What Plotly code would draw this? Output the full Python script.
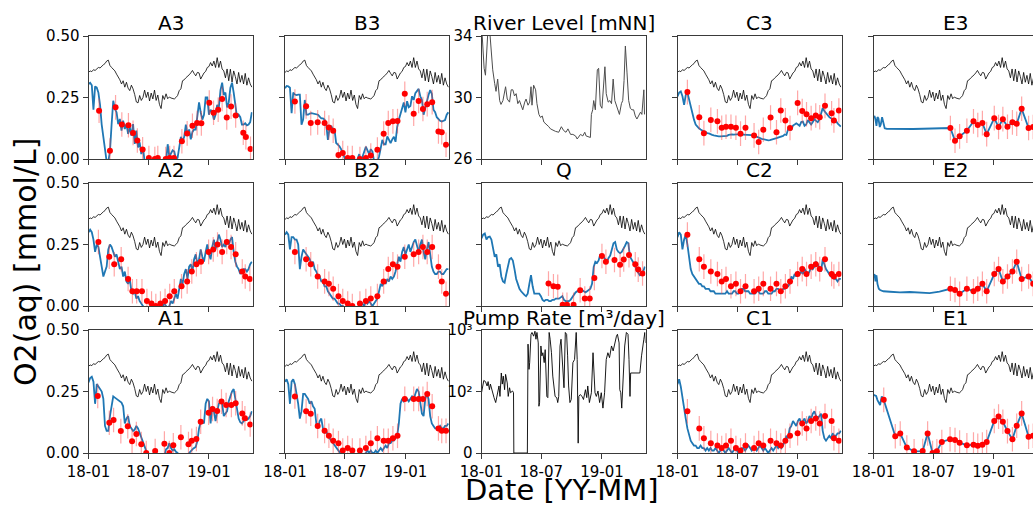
import numpy as np
import pandas as pd
import plotly.graph_objects as go

# ---------------- data ----------------
START = "2018-01-01"
SPAN_DAYS = 497          # visible time span of each panel
GRID_STEP = 5            # model / background series sampled every 5 days
OBS_ERR = 0.05           # observation error bar half-length [mmol/L]

# background (scaled temperature) line, identical in every O2 panel
T_LINE = [0.352, 0.358, 0.355, 0.363, 0.360, 0.368, 0.372, 0.370, 0.378, 0.383,
          0.388, 0.398, 0.402, 0.380, 0.372, 0.366, 0.358, 0.345, 0.335, 0.322,
          0.305, 0.318, 0.292, 0.312, 0.288, 0.278, 0.300, 0.285, 0.262, 0.232,
          0.228, 0.258, 0.238, 0.250, 0.280, 0.250, 0.272, 0.236, 0.268, 0.244,
          0.280, 0.238, 0.260, 0.222, 0.205, 0.258, 0.242, 0.265, 0.245, 0.252,
          0.248, 0.246, 0.244, 0.250, 0.258, 0.278, 0.285, 0.318, 0.322, 0.330,
          0.335, 0.342, 0.350, 0.360, 0.348, 0.338, 0.352, 0.350, 0.325, 0.340,
          0.350, 0.356, 0.372, 0.376, 0.392, 0.378, 0.398, 0.372, 0.412, 0.372,
          0.398, 0.366, 0.358, 0.330, 0.366, 0.318, 0.365, 0.313, 0.358, 0.335,
          0.305, 0.352, 0.312, 0.340, 0.305, 0.348, 0.300, 0.330, 0.305, 0.292]

A3_MODEL = [0.305, 0.31, 0.30, 0.20, 0.295, 0.29, 0.27, 0.22, 0.14, 0.08,
            0.02, -0.01, -0.01, 0.03, 0.14, 0.237, 0.203, 0.19, 0.142, 0.163,
            0.115, 0.156, 0.122, 0.142, 0.102, 0.129, 0.095, 0.142, 0.061, 0.115,
            0.047, 0.068, 0.02, 0.047, -0.01, -0.02, -0.02, -0.02, -0.02, -0.02,
            -0.02, -0.02, -0.02, -0.02, -0.02, -0.02, -0.02, -0.01, 0.06, 0.01,
            0.025, 0.035, 0.03, 0.0, 0.005, 0.05, 0.09, 0.07, 0.09, 0.14,
            0.10, 0.12, 0.08, 0.11, 0.12, 0.12, 0.19, 0.23, 0.19, 0.16,
            0.18, 0.25, 0.25, 0.18, 0.20, 0.19, 0.16, 0.18, 0.22, 0.21,
            0.28, 0.31, 0.26, 0.27, 0.21, 0.23, 0.29, 0.31, 0.27, 0.21,
            0.17, 0.18, 0.17, 0.14, 0.14, 0.145, 0.137, 0.14, 0.15, 0.19]
A3_OBS_DAYS = [32, 65, 82, 101, 121, 135, 148, 164, 183, 201, 210, 234, 246, 259, 283,
               299, 315, 329, 342, 366, 379, 393, 405, 419, 432, 446, 469, 477, 491]
A3_OBS = [0.196, 0.034, 0.21, 0.14, 0.137, 0.106, 0.075, 0.039, 0.004, 0.0, 0.004, 0.0, 0.004, 0.004, 0.072,
          0.104, 0.135, 0.146, 0.145, 0.229, 0.188, 0.20, 0.244, 0.169, 0.213, 0.177, 0.107, 0.089, 0.041]

A2_MODEL = [0.30, 0.31, 0.30, 0.27, 0.22, 0.25, 0.24, 0.20, 0.17, 0.12,
            0.14, 0.16, 0.23, 0.25, 0.24, 0.22, 0.20, 0.21, 0.18, 0.15,
            0.16, 0.12, 0.14, 0.10, 0.09, 0.11, 0.06, 0.05, 0.06, 0.03,
            0.04, 0.02, 0.01, 0.00, -0.01, -0.01, -0.01, -0.01, -0.01, -0.01,
            -0.01, -0.01, -0.01, -0.01, -0.01, 0.00, 0.01, 0.00, -0.01, 0.00,
            0.02, 0.01, 0.03, 0.05, 0.03, 0.08, 0.11, 0.09, 0.13, 0.15,
            0.11, 0.16, 0.17, 0.14, 0.19, 0.21, 0.17, 0.19, 0.23, 0.20,
            0.18, 0.22, 0.25, 0.21, 0.19, 0.24, 0.27, 0.23, 0.26, 0.29,
            0.27, 0.24, 0.25, 0.24, 0.27, 0.25, 0.27, 0.28, 0.22, 0.18,
            0.16, 0.15, 0.13, 0.14, 0.15, 0.15, 0.14, 0.15, 0.17, 0.18]
A2_OBS_DAYS = [30, 63, 78, 99, 120, 133, 146, 162, 177, 191, 204, 218, 232, 246, 260,
               282, 299, 313, 327, 341, 364, 378, 391, 405, 419, 432, 446, 466, 475, 489]
A2_OBS = [0.26, 0.20, 0.17, 0.19, 0.11, 0.06, 0.06, 0.06, 0.02, 0.01, 0.00, 0.01, 0.02, 0.04, 0.06,
          0.08, 0.10, 0.14, 0.17, 0.18, 0.22, 0.23, 0.25, 0.22, 0.26, 0.24, 0.21, 0.14, 0.12, 0.11]

A1_MODEL = [0.287, 0.305, 0.31, 0.29, 0.20, 0.28, 0.27, 0.26, 0.25, 0.22,
            0.11, 0.09, 0.09, 0.15, 0.20, 0.23, 0.225, 0.22, 0.215, 0.21,
            0.205, 0.19, 0.12, 0.14, 0.15, 0.11, 0.10, 0.09, 0.095, 0.11,
            0.10, 0.08, 0.06, 0.045, 0.02, 0.0, -0.01, -0.01, -0.01, -0.01,
            -0.01, -0.01, -0.01, -0.01, -0.01, -0.01, -0.01, 0.015, 0.02, 0.04,
            0.02, 0.01, 0.015, 0.005, 0.0, -0.01, -0.01, -0.01, -0.01, -0.01,
            -0.01, 0.0, 0.01, 0.015, 0.02, 0.025, 0.05, 0.10, 0.125, 0.13,
            0.12, 0.20, 0.22, 0.21, 0.12, 0.19, 0.17, 0.13, 0.17, 0.20,
            0.21, 0.20, 0.15, 0.16, 0.17, 0.21, 0.23, 0.25, 0.26, 0.22,
            0.17, 0.14, 0.125, 0.12, 0.13, 0.135, 0.135, 0.14, 0.15, 0.17]
A1_OBS_DAYS = [28, 63, 76, 98, 119, 132, 145, 160, 175, 202, 230, 245, 257, 280,
               303, 313, 327, 340, 364, 376, 390, 403, 417, 433, 446, 466, 474, 490]
A1_OBS = [0.232, 0.123, 0.134, 0.089, 0.109, 0.048, 0.077, 0.036, 0.0, 0.008, 0.038, 0.0, 0.031, 0.064,
          0.036, 0.05, 0.057, 0.127, 0.164, 0.179, 0.171, 0.209, 0.195, 0.195, 0.202, 0.161, 0.141, 0.116]

B_OBS_DAYS = [30, 64, 78, 99, 120, 133, 146, 162, 175, 190, 204, 227, 245, 260,
              280, 299, 313, 327, 341, 363, 390, 405, 418, 431, 446, 465, 475, 488]

B3_MODEL = [0.288, 0.297, 0.295, 0.29, 0.186, 0.27, 0.262, 0.26, 0.262, 0.262,
            0.139, 0.16, 0.24, 0.18, 0.18, 0.185, 0.186, 0.185, 0.184, 0.18,
            0.18, 0.172, 0.165, 0.165, 0.16, 0.14, 0.078, 0.125, 0.135, 0.12,
            0.12, 0.065, 0.06, 0.052, 0.04, 0.025, 0.005, -0.01, -0.01, -0.01,
            -0.01, -0.01, -0.01, -0.01, 0.0, 0.02, -0.01, 0.01, 0.03, 0.05,
            0.035, 0.02, 0.04, 0.03, -0.01, -0.01, -0.01, 0.01, 0.04, 0.078,
            0.06, 0.06, 0.092, 0.075, 0.065, 0.08, 0.09, 0.07, 0.13, 0.16,
            0.185, 0.20, 0.23, 0.19, 0.235, 0.21, 0.215, 0.255, 0.24, 0.268,
            0.275, 0.285, 0.255, 0.24, 0.18, 0.21, 0.24, 0.26, 0.28, 0.265,
            0.20, 0.19, 0.17, 0.16, 0.155, 0.152, 0.155, 0.158, 0.18, 0.19]
B3_OBS = [0.234, 0.214, 0.146, 0.149, 0.146, 0.128, 0.115, 0.016, 0.024, 0.004, 0.004, 0.0, 0.004, 0.014,
          0.038, 0.103, 0.146, 0.153, 0.154, 0.265, 0.184, 0.236, 0.203, 0.223, 0.231, 0.112, 0.109, 0.058]

B2_MODEL = [0.29, 0.30, 0.29, 0.23, 0.28, 0.28, 0.27, 0.27, 0.25, 0.15,
            0.20, 0.23, 0.22, 0.21, 0.20, 0.19, 0.17, 0.18, 0.15, 0.14,
            0.12, 0.12, 0.10, 0.10, 0.08, 0.08, 0.06, 0.05, 0.04, 0.03,
            0.03, 0.02, 0.01, 0.01, 0.0, 0.0, -0.005, -0.005, -0.005, -0.005,
            -0.005, -0.005, -0.005, -0.005, -0.005, -0.005, 0.0, 0.01, 0.0, 0.02,
            0.01, 0.02, 0.01, 0.0, 0.01, 0.02, 0.03, 0.06, 0.09, 0.08,
            0.10, 0.09, 0.11, 0.10, 0.12, 0.11, 0.12, 0.14, 0.17, 0.20,
            0.18, 0.22, 0.24, 0.21, 0.23, 0.25, 0.22, 0.24, 0.26, 0.27,
            0.24, 0.22, 0.25, 0.27, 0.22, 0.19, 0.23, 0.26, 0.21, 0.16,
            0.14, 0.13, 0.13, 0.14, 0.14, 0.13, 0.13, 0.14, 0.15, 0.15]
B2_OBS = [0.22, 0.19, 0.17, 0.12, 0.10, 0.09, 0.07, 0.04, 0.02, 0.01, 0.00, 0.01, 0.02, 0.03,
          0.04, 0.10, 0.15, 0.17, 0.16, 0.20, 0.21, 0.22, 0.24, 0.22, 0.24, 0.16, 0.10, 0.05]

B1_MODEL = [0.29, 0.30, 0.28, 0.20, 0.29, 0.30, 0.28, 0.24, 0.20, 0.14,
            0.17, 0.24, 0.24, 0.23, 0.22, 0.20, 0.21, 0.19, 0.18, 0.12,
            0.10, 0.13, 0.14, 0.10, 0.08, 0.09, 0.07, 0.06, 0.05, 0.04,
            0.03, 0.02, 0.01, 0.0, -0.005, -0.005, -0.005, -0.005, -0.005, -0.005,
            -0.005, -0.005, -0.005, -0.005, -0.005, -0.005, -0.005, -0.005, -0.005, 0.0,
            0.01, 0.0, 0.01, 0.0, 0.0, 0.01, 0.0, 0.01, 0.02, 0.01,
            0.02, 0.03, 0.02, 0.04, 0.04, 0.05, 0.05, 0.06, 0.07, 0.12,
            0.20, 0.22, 0.21, 0.22, 0.22, 0.21, 0.22, 0.23, 0.22, 0.24,
            0.26, 0.25, 0.20, 0.16, 0.15, 0.22, 0.24, 0.22, 0.15, 0.12,
            0.11, 0.10, 0.10, 0.10, 0.11, 0.10, 0.10, 0.11, 0.11, 0.12]
B1_OBS = [0.23, 0.17, 0.16, 0.11, 0.09, 0.07, 0.05, 0.04, 0.01, 0.02, 0.01, 0.01, 0.02, 0.04,
          0.06, 0.05, 0.05, 0.06, 0.07, 0.22, 0.22, 0.22, 0.22, 0.24, 0.19, 0.10, 0.09, 0.09]

Q_MODEL = [0.275, 0.29, 0.295, 0.27, 0.28, 0.282, 0.27, 0.228, 0.20, 0.21,
           0.16, 0.17, 0.12, 0.10, 0.095, 0.13, 0.16, 0.19, 0.195, 0.185,
           0.15, 0.11, 0.09, 0.07, 0.06, 0.05, 0.045, 0.04, 0.05, 0.09,
           0.125, 0.08, 0.05, 0.05, 0.05, 0.05, 0.04, 0.025, 0.02, 0.025,
           0.025, 0.02, 0.02, 0.025, 0.025, 0.03, 0.03, 0.03, 0.035, 0.04,
           0.025, 0.02, 0.02, 0.02, 0.025, 0.035, 0.05, 0.055, 0.06, 0.06,
           0.06, 0.065, 0.06, 0.055, 0.06, 0.065, 0.07, 0.09, 0.159, 0.18,
           0.175, 0.185, 0.21, 0.20, 0.20, 0.19, 0.18, 0.195, 0.205, 0.23,
           0.255, 0.26, 0.23, 0.22, 0.215, 0.22, 0.23, 0.245, 0.26, 0.255,
           0.20, 0.19, 0.18, 0.165, 0.145, 0.135, 0.125, 0.13, 0.14, 0.16]
Q_OBS_DAYS = [203, 218, 231, 246, 259, 279, 299, 313, 328, 342, 365, 377, 403, 420, 431, 447, 466, 475, 488]
Q_OBS = [0.091, 0.080, 0.078, 0.005, 0.005, 0.005, 0.064, 0.030, 0.030, 0.114,
         0.203, 0.180, 0.187, 0.168, 0.189, 0.207, 0.170, 0.148, 0.132]

C_OBS_DAYS = [30, 66, 80, 101, 121, 134, 147, 162, 177, 191, 206, 232, 246, 260, 282,
              300, 313, 327, 341, 364, 378, 391, 405, 419, 431, 447, 467, 474, 489]

C3_MODEL = [0.254, 0.27, 0.275, 0.255, 0.22, 0.26, 0.27, 0.24, 0.21, 0.19,
            0.16, 0.14, 0.13, 0.125, 0.12, 0.115, 0.112, 0.11, 0.105, 0.104,
            0.10, 0.098, 0.096, 0.094, 0.093, 0.092, 0.092, 0.092, 0.091, 0.092,
            0.094, 0.098, 0.10, 0.10, 0.099, 0.098, 0.10, 0.10, 0.10, 0.10,
            0.10, 0.10, 0.10, 0.099, 0.098, 0.097, 0.096, 0.094, 0.09, 0.088,
            0.085, 0.082, 0.08, 0.078, 0.076, 0.076, 0.077, 0.078, 0.081, 0.083,
            0.085, 0.087, 0.09, 0.092, 0.094, 0.10, 0.098, 0.12, 0.124, 0.12,
            0.136, 0.14, 0.145, 0.14, 0.135, 0.15, 0.152, 0.135, 0.14, 0.158,
            0.15, 0.14, 0.15, 0.162, 0.155, 0.15, 0.16, 0.18, 0.207, 0.195,
            0.185, 0.18, 0.17, 0.166, 0.16, 0.16, 0.155, 0.145, 0.14, 0.132]
C3_OBS = [0.272, 0.170, 0.105, 0.159, 0.153, 0.127, 0.131, 0.131, 0.127, 0.103, 0.127, 0.096, 0.069, 0.119, 0.169,
          0.109, 0.197, 0.157, 0.126, 0.228, 0.195, 0.182, 0.166, 0.177, 0.170, 0.216, 0.186, 0.157, 0.197]

C2_MODEL = [0.28, 0.30, 0.29, 0.23, 0.27, 0.29, 0.25, 0.19, 0.15, 0.13,
            0.12, 0.11, 0.10, 0.09, 0.09, 0.08, 0.08, 0.07, 0.07, 0.07,
            0.06, 0.06, 0.06, 0.05, 0.05, 0.05, 0.05, 0.05, 0.05, 0.05,
            0.06, 0.05, 0.05, 0.05, 0.06, 0.06, 0.05, 0.05, 0.06, 0.07,
            0.07, 0.06, 0.06, 0.06, 0.05, 0.05, 0.05, 0.05, 0.06, 0.06,
            0.05, 0.05, 0.05, 0.06, 0.06, 0.05, 0.05, 0.05, 0.06, 0.06,
            0.07, 0.07, 0.06, 0.06, 0.07, 0.07, 0.08, 0.08, 0.09, 0.12,
            0.11, 0.13, 0.12, 0.14, 0.13, 0.14, 0.13, 0.15, 0.14, 0.13,
            0.14, 0.16, 0.15, 0.16, 0.18, 0.17, 0.15, 0.14, 0.19, 0.17,
            0.15, 0.14, 0.13, 0.12, 0.12, 0.11, 0.11, 0.10, 0.11, 0.11]
C2_OBS = [0.29, 0.19, 0.16, 0.14, 0.13, 0.10, 0.11, 0.08, 0.09, 0.06, 0.08, 0.06, 0.07, 0.09, 0.07,
          0.09, 0.06, 0.08, 0.10, 0.13, 0.15, 0.13, 0.16, 0.17, 0.15, 0.19, 0.13, 0.12, 0.13]

C1_MODEL = [0.28, 0.30, 0.27, 0.22, 0.18, 0.14, 0.10, 0.07, 0.05, 0.04,
            0.03, 0.03, 0.02, 0.02, 0.03, 0.02, 0.02, 0.01, 0.02, 0.01,
            0.02, 0.01, 0.01, 0.02, 0.01, 0.0, 0.01, 0.02, 0.01, 0.0,
            0.01, 0.02, 0.01, 0.0, 0.01, 0.02, 0.01, 0.0, 0.01, 0.02,
            0.02, 0.01, 0.02, 0.03, 0.02, 0.01, 0.02, 0.02, 0.01, 0.02,
            0.03, 0.02, 0.01, 0.02, 0.01, 0.0, 0.01, 0.02, 0.01, 0.02,
            0.03, 0.02, 0.03, 0.02, 0.03, 0.05, 0.07, 0.06, 0.10, 0.11,
            0.13, 0.12, 0.11, 0.13, 0.14, 0.12, 0.13, 0.14, 0.12, 0.13,
            0.15, 0.14, 0.16, 0.17, 0.15, 0.14, 0.15, 0.16, 0.09, 0.06,
            0.05, 0.06, 0.07, 0.06, 0.08, 0.07, 0.07, 0.08, 0.08, 0.09]
C1_OBS = [0.17, 0.10, 0.06, 0.04, 0.03, 0.02, 0.03, 0.05, 0.02, 0.01, 0.03, 0.02, 0.04, 0.03, 0.05,
          0.04, 0.03, 0.05, 0.07, 0.08, 0.12, 0.10, 0.13, 0.14, 0.12, 0.15, 0.13, 0.06, 0.05]

E_OBS_DAYS = [233, 247, 261, 283, 303, 316, 330, 343, 366, 379, 392, 406, 421, 434, 449, 470, 484]

E3_MODEL_DAYS = [0, 3, 6, 9, 12, 15, 19, 22, 26, 30, 34, 40, 60, 90, 120, 150, 180, 210,
                 233, 247, 261, 283, 303, 316, 330, 343, 366, 379, 392, 406, 421, 434, 449, 470, 484, 497]
E3_MODEL = [0.17, 0.175, 0.16, 0.135, 0.17, 0.165, 0.13, 0.14, 0.17, 0.14, 0.125, 0.123, 0.122, 0.123, 0.122, 0.123, 0.123, 0.123,
            0.126, 0.074, 0.092, 0.115, 0.153, 0.138, 0.146, 0.101, 0.166, 0.130, 0.162, 0.131, 0.149, 0.143, 0.204, 0.126, 0.13, 0.14]
E3_OBS = [0.126, 0.074, 0.092, 0.115, 0.153, 0.138, 0.146, 0.101, 0.166, 0.130, 0.162, 0.131, 0.149, 0.143, 0.204, 0.126, 0.13]

E2_MODEL_DAYS = [0, 3, 6, 9, 12, 16, 20, 30, 50, 80, 110, 140, 170, 200,
                 233, 247, 261, 283, 303, 316, 330, 343, 366, 379, 392, 406, 421, 434, 449, 470, 484, 497]
E2_MODEL = [0.12, 0.13, 0.10, 0.125, 0.09, 0.07, 0.065, 0.06, 0.058, 0.055, 0.057, 0.054, 0.052, 0.058,
            0.07, 0.065, 0.05, 0.07, 0.06, 0.07, 0.09, 0.06, 0.13, 0.15, 0.10, 0.12, 0.14, 0.18, 0.11, 0.12, 0.09, 0.09]
E2_OBS = [0.07, 0.065, 0.05, 0.07, 0.06, 0.07, 0.09, 0.06, 0.13, 0.15, 0.10, 0.12, 0.14, 0.18, 0.11, 0.12, 0.09]

E1_OBS_DAYS = [31, 66, 81, 101, 123, 149, 164, 179, 192, 207, 232, 247, 261, 283, 303, 316, 330, 343,
               366, 379, 392, 406, 421, 434, 449, 470, 484]
E1_OBS = [0.216, 0.068, 0.079, 0.022, 0.007, 0.008, 0.079, 0.0, 0.007, 0.045, 0.056, 0.053, 0.042, 0.031, 0.034, 0.029, 0.034, 0.045,
          0.130, 0.148, 0.127, 0.089, 0.056, 0.111, 0.161, 0.066, 0.07]
E1_MODEL_DAYS = [0, 4, 8, 12, 16, 20, 25, 31, 66, 81, 101, 123, 149, 164, 179, 192, 207, 232, 247, 261,
                 283, 303, 316, 330, 343, 366, 379, 392, 406, 421, 434, 449, 470, 484, 497]
E1_MODEL = [0.236, 0.234, 0.232, 0.215, 0.202, 0.195, 0.23, 0.216, 0.068, 0.079, 0.022, 0.007, 0.008, 0.079, 0.0, 0.007, 0.045, 0.056, 0.053, 0.042,
            0.031, 0.034, 0.029, 0.034, 0.045, 0.130, 0.148, 0.127, 0.089, 0.056, 0.111, 0.161, 0.066, 0.07, 0.08]

RIVER_DAYS = [0, 4, 8, 12, 16, 20, 25, 30, 34, 40, 44, 49, 55, 59, 65, 73, 78, 85, 90, 95,
              100, 105, 110, 115, 120, 125, 131, 135, 141, 146, 150, 153, 158, 164, 168, 174, 179, 184, 189, 194,
              199, 204, 209, 214, 224, 234, 242, 249, 256, 262, 270, 277, 285, 290, 300, 307, 313, 317, 323, 330,
              333, 337, 340, 345, 351, 355, 360, 365, 374, 378, 384, 389, 394, 399, 404, 411, 418, 424, 428, 432,
              436, 441, 446, 451, 456, 461, 466, 471, 476, 482, 486, 492, 494]
RIVER_LEVEL = [34.8, 33.2, 31.9, 31.45, 33.5, 34.6, 34.3, 32.8, 31.8, 30.9, 30.4, 31.2, 29.8, 29.55, 29.8, 30.7, 29.9, 29.7, 30.5, 30.5,
               30.1, 30.25, 29.6, 29.8, 29.5, 29.2, 29.7, 29.9, 29.5, 29.7, 30.7, 29.5, 30.8, 30.5, 29.6, 28.9, 28.7, 28.8, 28.4, 28.3,
               28.25, 28.1, 27.96, 27.9, 27.8, 27.74, 28.1, 27.85, 27.74, 27.96, 27.6, 27.6, 27.5, 27.3, 27.6, 27.5, 27.74, 27.5, 27.46, 27.4,
               28.9, 29.2, 29.8, 29.2, 31.8, 31.9, 29.5, 29.3, 32.0, 30.25, 29.7, 29.8, 29.6, 31.2, 29.8, 29.4, 28.9, 29.6, 29.8, 31.1,
               33.35, 31.6, 29.8, 29.3, 29.2, 29.2, 28.8, 28.6, 28.8, 29.05, 28.9, 30.5, 28.9]

PUMP_DAYS = [0, 4, 7, 12, 17, 20, 24, 27, 33, 38, 43, 48, 53, 56, 60, 63, 66, 70, 73, 78,
             81, 85, 88, 94, 97, 98, 139, 141, 144, 146, 150, 153, 158, 162, 165, 168, 172, 174, 176, 180,
             183, 186, 190, 193, 195, 198, 201, 205, 208, 212, 216, 219, 223, 228, 231, 234, 238, 241, 244, 247,
             250, 254, 258, 261, 264, 268, 272, 277, 282, 287, 290, 293, 295, 299, 305, 309, 315, 319, 322, 327,
             333, 338, 341, 344, 348, 353, 358, 363, 368, 373, 378, 383, 388, 394, 399, 404, 409, 412, 417, 419,
             422, 425, 429, 434, 439, 444, 447, 450, 452, 480, 485, 488, 492, 495, 497]
PUMP_RATE = [98, 138, 151, 145, 123, 145, 107, 132, 98, 90, 82, 98, 123, 92, 200, 132, 178, 107, 190, 138,
             92, 115, 98, 102, 98, 0, 0, 589, 229, 295, 851, 912, 794, 955, 708, 912, 617, 76, 82, 550,
             380, 427, 295, 479, 178, 92, 90, 912, 708, 427, 178, 138, 92, 90, 82, 92, 550, 708, 380, 158,
             115, 912, 851, 380, 123, 82, 87, 295, 331, 912, 331, 16, 92, 95, 92, 87, 107, 90, 123, 82,
             98, 427, 158, 98, 92, 102, 82, 98, 73, 98, 331, 427, 355, 550, 457, 617, 794, 851, 617, 107,
             98, 73, 158, 550, 912, 851, 331, 92, 200, 200, 380, 550, 708, 912, 617]

PANELS = [["A3", "B3", "River Level [mNN]", "C3", "E3"],
          ["A2", "B2", "Q", "C2", "E2"],
          ["A1", "B1", "Pump Rate [m³/day]", "C1", "E1"]]

O2_SERIES = {
    "A3": (None, A3_MODEL, A3_OBS_DAYS, A3_OBS),
    "A2": (None, A2_MODEL, A2_OBS_DAYS, A2_OBS),
    "A1": (None, A1_MODEL, A1_OBS_DAYS, A1_OBS),
    "B3": (None, B3_MODEL, B_OBS_DAYS, B3_OBS),
    "B2": (None, B2_MODEL, B_OBS_DAYS, B2_OBS),
    "B1": (None, B1_MODEL, B_OBS_DAYS, B1_OBS),
    "Q": (None, Q_MODEL, Q_OBS_DAYS, Q_OBS),
    "C3": (None, C3_MODEL, C_OBS_DAYS, C3_OBS),
    "C2": (None, C2_MODEL, C_OBS_DAYS, C2_OBS),
    "C1": (None, C1_MODEL, C_OBS_DAYS, C1_OBS),
    "E3": (E3_MODEL_DAYS, E3_MODEL, E_OBS_DAYS, E3_OBS),
    "E2": (E2_MODEL_DAYS, E2_MODEL, E_OBS_DAYS, E2_OBS),
    "E1": (E1_MODEL_DAYS, E1_MODEL, E1_OBS_DAYS, E1_OBS),
}

# ---------------- layout geometry (pixels) ----------------
W, H = 1033, 506
COL_LEFT = [88.5, 285.0, 481.5, 677.5, 873.5]
ROW_TOP = [36.0, 183.0, 330.0]
PW, PH = 164.0, 123.0

FONT = "DejaVu Sans"
SPINE = "#3a3a3a"
BLUE = "#1f77b4"

start_ts = pd.Timestamp(START)


def to_dates(days):
    return start_ts + pd.to_timedelta(np.asarray(days, dtype=float), unit="D")


def grid_days(n):
    return np.arange(n) * GRID_STEP


def symlog(v):
    v = np.asarray(v, dtype=float)
    return np.where(v <= 100, v / 100.0, 1 + np.log10(np.maximum(v, 1e-9) / 100.0))


fig = go.Figure()
annotations = []
idx = 0
for r in range(3):
    for c in range(5):
        idx += 1
        name = PANELS[r][c]
        xa = "x" if idx == 1 else f"x{idx}"
        ya = "y" if idx == 1 else f"y{idx}"

        if name.startswith("River"):
            fig.add_trace(go.Scatter(x=to_dates(RIVER_DAYS), y=RIVER_LEVEL, mode="lines",
                                     line=dict(color="#4d4d4d", width=1), xaxis=xa, yaxis=ya,
                                     showlegend=False, hoverinfo="skip"))
            yr, ytv, ytt = [26, 34], [26, 30, 34], ["26", "30", "34"]
            show_ylab = True
        elif name.startswith("Pump"):
            fig.add_trace(go.Scatter(x=to_dates(PUMP_DAYS), y=symlog(PUMP_RATE), mode="lines",
                                     line=dict(color="black", width=0.9), xaxis=xa, yaxis=ya,
                                     showlegend=False, hoverinfo="skip"))
            yr, ytv, ytt = [0, 2], [0, 1, 2], ["0", "10²", "10³"]
            show_ylab = True
        else:
            mdays, model, odays, obs = O2_SERIES[name]
            if mdays is None:
                mdays = grid_days(len(model))
            fig.add_trace(go.Scatter(x=to_dates(grid_days(len(T_LINE))), y=T_LINE, mode="lines",
                                     line=dict(color="black", width=0.8), xaxis=xa, yaxis=ya,
                                     showlegend=False, hoverinfo="skip"))
            fig.add_trace(go.Scatter(x=to_dates(mdays), y=model, mode="lines",
                                     line=dict(color=BLUE, width=1.8), xaxis=xa, yaxis=ya,
                                     showlegend=False, hoverinfo="skip"))
            fig.add_trace(go.Scatter(x=to_dates(odays), y=obs, mode="markers",
                                     marker=dict(color="red", size=6),
                                     error_y=dict(type="constant", value=OBS_ERR,
                                                  color="rgba(255,60,60,0.45)", thickness=1.2, width=0),
                                     xaxis=xa, yaxis=ya, showlegend=False, hoverinfo="skip"))
            yr, ytv, ytt = [0, 0.5], [0, 0.25, 0.5], ["0.00", "0.25", "0.50"]
            show_ylab = (c == 0)

        left = COL_LEFT[c]
        right = min(left + PW, W)
        vis_days = SPAN_DAYS * (right - left) / PW
        top = ROW_TOP[r]
        bottom = top + PH
        end = (start_ts + pd.Timedelta(days=vis_days)).strftime("%Y-%m-%d %H:%M:%S")
        clipped = right < left + PW

        fig.layout[("xaxis" if idx == 1 else f"xaxis{idx}")] = dict(
            domain=[left / W, right / W], anchor=ya, type="date", automargin=False,
            range=[start_ts.strftime("%Y-%m-%d"), end],
            tickmode="array", tickvals=["2018-01-01", "2018-07-01", "2019-01-01"],
            ticktext=["18-01", "18-07", "19-01"], showticklabels=(r == 2),
            ticks="outside", ticklen=5, tickwidth=1, tickcolor=SPINE,
            showline=True, linecolor=SPINE, linewidth=1, mirror=True,
            showgrid=False, zeroline=False,
            tickfont=dict(family=FONT, size=15, color="black"))
        fig.layout[("yaxis" if idx == 1 else f"yaxis{idx}")] = dict(
            domain=[1 - bottom / H, 1 - top / H], anchor=xa, range=yr, automargin=False,
            tickmode="array", tickvals=ytv, ticktext=ytt, showticklabels=show_ylab,
            ticks="outside", ticklen=5, tickwidth=1, tickcolor=SPINE,
            showline=True, linecolor=SPINE, linewidth=1, mirror=(not clipped),
            showgrid=False, zeroline=False,
            tickfont=dict(family=FONT, size=15, color="black"))

        annotations.append(dict(text=name, xref="paper", yref="paper",
                                x=(left + PW / 2) / W, y=1 - (top - 12.5) / H,
                                xanchor="center", yanchor="middle", showarrow=False,
                                font=dict(family=FONT, size=20, color="black")))

annotations.append(dict(text="O2(aq) [mmol/L]", xref="paper", yref="paper",
                        x=25 / W, y=1 - 262 / H, textangle=-90, xanchor="center", yanchor="middle",
                        showarrow=False, font=dict(family=FONT, size=30, color="black")))
annotations.append(dict(text="Date [YY-MM]", xref="paper", yref="paper",
                        x=562 / W, y=1 - 489.5 / H, xanchor="center", yanchor="middle",
                        borderpad=0, showarrow=False, font=dict(family=FONT, size=29, color="black")))

fig.update_layout(width=W, height=H, margin=dict(l=0, r=0, t=0, b=0, autoexpand=False),
                  paper_bgcolor="white", plot_bgcolor="white",
                  annotations=annotations, showlegend=False)

fig.write_html("out.html", config={"displayModeBar": False},
               post_script="document.body.style.margin='0';document.body.style.overflow='hidden';")
